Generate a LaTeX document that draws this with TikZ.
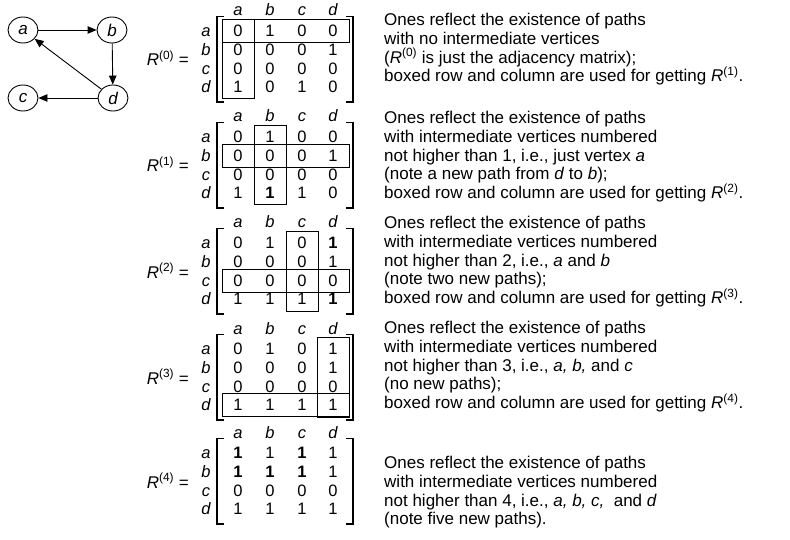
\documentclass[tikz,border=0pt]{standalone}
\usepackage{fontspec}
\setmainfont{Liberation Sans}
\usetikzlibrary{arrows.meta,shapes.geometric}
\newcommand\MatFrame[2]{%
  \node[lab] (h#1a) at (238,#2+16) {a};
  \node[lab] (h#1b) at (270,#2+16) {b};
  \node[lab] (h#1c) at (302,#2+16) {c};
  \node[lab] (h#1d) at (333,#2+16) {d};
  \draw[brk] (224,#2+16.5) -- (217,#2+16.5) -- (217,#2+102) -- (224,#2+102);
  \draw[brk] (346,#2+16.5) -- (353,#2+16.5) -- (353,#2+102) -- (346,#2+102);
  \node[rlab] (R#1) at (189,#2+66) {\textit{R}\textsuperscript{(#1)} =};
}
\newcommand\MRow[7]{%
  \node[lab] (r#1#2) at (206,#3+5) {#2};
  \node[cell] (m#1#2a) at (238,#3+5) {#4};
  \node[cell] (m#1#2b) at (270,#3+5) {#5};
  \node[cell] (m#1#2c) at (302,#3+5) {#6};
  \node[cell] (m#1#2d) at (333,#3+5) {#7};
}
\newcommand\RowBox[2]{\draw[boxln] (222,#1+#2-12) rectangle (349,#1+#2+11);}
\newcommand\ColBox[2]{\draw[boxln] (#2-16,#1+19.5) rectangle (#2+16,#1+99);}
\newcommand\B[1]{\textbf{#1}}
\begin{document}
\begin{tikzpicture}[x=1pt,y=-1pt,
  txt/.style={anchor=base west, inner sep=0pt, font=\fontsize{17}{19}\selectfont},
  cell/.style={anchor=base, inner sep=0pt, font=\fontsize{16.5}{19}\selectfont},
  lab/.style={anchor=base, inner sep=0pt, font=\fontsize{16.5}{19}\selectfont\itshape},
  rlab/.style={anchor=base east, inner sep=0pt, font=\fontsize{17}{19}\selectfont},
  vtx/.style={draw, ellipse, minimum width=30pt, minimum height=26pt, inner sep=0pt, font=\fontsize{17}{19}\selectfont\itshape, line width=0.9pt},
  edge/.style={draw, line width=0.9pt, -{Triangle[length=9pt,width=7.5pt]}},
  boxln/.style={draw, line width=1pt},
  brk/.style={draw, line width=1.3pt}]
\useasboundingbox (0,0) rectangle (790,540);
% graph
\node[vtx] (a) at (23,30) {a};
\node[vtx] (b) at (112,30) {b};
\node[vtx] (c) at (23,98) {c};
\node[vtx] (d) at (113,98) {d};
\draw[edge] (a) -- (b);
\draw[edge] (b) -- (d);
\draw[edge] (d) -- (a);
\draw[edge] (d) -- (c);
% R0
\MatFrame{0}{0}
\MRow{0}{a}{31.5}{0}{1}{0}{0}
\MRow{0}{b}{50.3}{0}{0}{0}{1}
\MRow{0}{c}{69.1}{0}{0}{0}{0}
\MRow{0}{d}{87.9}{1}{0}{1}{0}
\RowBox{0}{31.5}
\ColBox{0}{238}
% R1
\MatFrame{1}{106}
\MRow{1}{a}{106+31.5}{0}{1}{0}{0}
\MRow{1}{b}{106+50.3}{0}{0}{0}{1}
\MRow{1}{c}{106+69.1}{0}{0}{0}{0}
\MRow{1}{d}{106+87.9}{1}{\B{1}}{1}{0}
\RowBox{106}{50.3}
\ColBox{106}{270}
% R2
\MatFrame{2}{212}
\MRow{2}{a}{212+31.5}{0}{1}{0}{\B{1}}
\MRow{2}{b}{212+50.3}{0}{0}{0}{1}
\MRow{2}{c}{212+69.1}{0}{0}{0}{0}
\MRow{2}{d}{212+87.9}{1}{1}{1}{\B{1}}
\RowBox{212}{69.1}
\ColBox{212}{302}
% R3
\MatFrame{3}{318}
\MRow{3}{a}{318+31.5}{0}{1}{0}{1}
\MRow{3}{b}{318+50.3}{0}{0}{0}{1}
\MRow{3}{c}{318+69.1}{0}{0}{0}{0}
\MRow{3}{d}{318+87.9}{1}{1}{1}{1}
\RowBox{318}{87.9}
\ColBox{318}{333}
% R4
\MatFrame{4}{422}
\MRow{4}{a}{422+31.5}{\B{1}}{1}{\B{1}}{1}
\MRow{4}{b}{422+50.3}{\B{1}}{\B{1}}{\B{1}}{1}
\MRow{4}{c}{422+69.1}{0}{0}{0}{0}
\MRow{4}{d}{422+87.9}{1}{1}{1}{1}
% texts
\node[txt] (t01) at (384,25.5) {Ones reflect the existence of paths};
\node[txt] (t02) at (384,44.3) {with no intermediate vertices};
\node[txt] (t03) at (384,63.1) {(\textit{R}\textsuperscript{(0)} is just the adjacency matrix);};
\node[txt] (t04) at (384,81.9) {boxed row and column are used for getting \textit{R}\textsuperscript{(1)}.};
\node[txt] (t11) at (384,123.5) {Ones reflect the existence of paths};
\node[txt] (t12) at (384,142.3) {with intermediate vertices numbered};
\node[txt] (t13) at (384,161.1) {not higher than 1, i.e., just vertex \textit{a}};
\node[txt] (t14) at (384,179.9) {(note a new path from \textit{d} to \textit{b});};
\node[txt] (t15) at (384,198.7) {boxed row and column are used for getting \textit{R}\textsuperscript{(2)}.};
\node[txt] (t21) at (384,228.5) {Ones reflect the existence of paths};
\node[txt] (t22) at (384,247.3) {with intermediate vertices numbered};
\node[txt] (t23) at (384,266.1) {not higher than 2, i.e., \textit{a} and \textit{b}};
\node[txt] (t24) at (384,284.9) {(note two new paths);};
\node[txt] (t25) at (384,303.7) {boxed row and column are used for getting \textit{R}\textsuperscript{(3)}.};
\node[txt] (t31) at (384,333.5) {Ones reflect the existence of paths};
\node[txt] (t32) at (384,352.3) {with intermediate vertices numbered};
\node[txt] (t33) at (384,371.1) {not higher than 3, i.e., \textit{a, b,} and \textit{c}};
\node[txt] (t34) at (384,389.9) {(no new paths);};
\node[txt] (t35) at (384,408.7) {boxed row and column are used for getting \textit{R}\textsuperscript{(4)}.};
\node[txt] (t41) at (384,468.5) {Ones reflect the existence of paths};
\node[txt] (t42) at (384,487.3) {with intermediate vertices numbered};
\node[txt] (t43) at (384,506.1) {not higher than 4, i.e., \textit{a, b, c,}\ \ and \textit{d}};
\node[txt] (t44) at (384,524.9) {(note five new paths).};
\end{tikzpicture}
\end{document}
